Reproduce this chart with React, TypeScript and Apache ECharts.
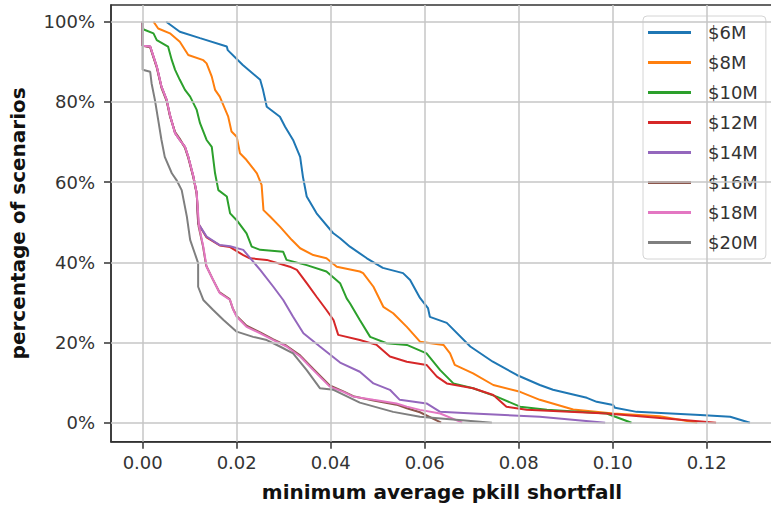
import React, { useEffect, useRef } from "react";
import * as echarts from "echarts";

const seriesNames = ["$6M", "$8M", "$10M", "$12M", "$14M", "$16M", "$18M", "$20M"];
const colors = ["#1f77b4", "#ff7f0e", "#2ca02c", "#d62728", "#9467bd", "#8c564b", "#e377c2", "#7f7f7f"];

const xTicks = [0, 0.02, 0.04, 0.06, 0.08, 0.1, 0.12];
const yTicks = [0, 20, 40, 60, 80, 100];

const s6M = [
  [0.005, 100], [0.0079, 97.5], [0.0122, 95.9], [0.0179, 93.8], [0.0181, 92.9], [0.0213, 89.2],
  [0.025, 85.5], [0.0256, 83.0], [0.0264, 78.8], [0.0292, 76.3], [0.0303, 73.8], [0.032, 70.5],
  [0.0335, 66.3], [0.0341, 61.3], [0.0349, 56.4], [0.037, 52.2], [0.0405, 47.3], [0.042, 46.0],
  [0.0441, 43.9], [0.0477, 41.0], [0.0511, 38.6], [0.0554, 37.3], [0.0569, 35.6], [0.059, 31.1],
  [0.0607, 28.6], [0.0611, 26.4], [0.0647, 24.9], [0.0697, 19.0], [0.0745, 15.2], [0.0796, 11.9],
  [0.0845, 9.4], [0.0873, 8.2], [0.0945, 6.2], [0.0966, 5.2], [0.1001, 4.4], [0.1005, 3.7],
  [0.1051, 2.7], [0.1186, 1.9], [0.125, 1.5], [0.1292, 0],
];
const s8M = [
  [0.0023, 100], [0.0033, 98.3], [0.0058, 97.1], [0.0079, 95.0], [0.0097, 91.7], [0.0129, 90.4],
  [0.0136, 89.6], [0.0147, 86.3], [0.0154, 83.0], [0.0164, 81.3], [0.0182, 76.3], [0.0189, 72.6],
  [0.02, 71.3], [0.0207, 67.2], [0.0221, 65.5], [0.0243, 62.2], [0.0253, 59.3], [0.0257, 53.0],
  [0.0271, 51.4], [0.0292, 48.9], [0.0317, 45.6], [0.0335, 43.5], [0.0363, 41.8], [0.0391, 41.0],
  [0.0413, 38.9], [0.0462, 37.7], [0.0469, 37.3], [0.0491, 33.9], [0.0512, 28.9], [0.0533, 27.3],
  [0.0562, 23.9], [0.059, 20.2], [0.064, 19.4], [0.0654, 17.3], [0.0664, 14.4], [0.0703, 12.3],
  [0.0746, 9.4], [0.0803, 7.7], [0.0845, 5.7], [0.0916, 3.3], [0.1001, 2.3], [0.11, 1.6], [0.118, 0],
];
const s10M = [
  [0, 100], [0.0001, 98.1], [0.0023, 97.1], [0.003, 95.4], [0.0054, 93.8], [0.0062, 90.4],
  [0.0069, 88.0], [0.0079, 85.5], [0.009, 83.0], [0.0101, 81.3], [0.0115, 78.0], [0.0122, 74.7],
  [0.0136, 70.5], [0.0147, 68.8], [0.0154, 62.2], [0.0161, 58.0], [0.0179, 56.4], [0.0186, 52.2],
  [0.02, 50.5], [0.0221, 47.2], [0.0232, 43.9], [0.025, 43.1], [0.0299, 42.6], [0.0306, 40.6],
  [0.0349, 39.3], [0.0391, 37.7], [0.042, 34.8], [0.0434, 31.0], [0.0441, 29.8], [0.0462, 25.6],
  [0.0484, 21.4], [0.0519, 19.8], [0.0562, 19.4], [0.0604, 17.3], [0.0633, 13.1], [0.0661, 9.8],
  [0.0703, 8.6], [0.0753, 6.5], [0.0803, 4.0], [0.086, 3.2], [0.0987, 2.3], [0.104, 0],
];
const s12M = [
  [0, 100], [0, 94], [0.0016, 93.8], [0.0023, 91.3], [0.003, 88.8], [0.004, 83.8], [0.0051, 80.5],
  [0.0058, 76.7], [0.0069, 72.2], [0.0079, 70.5], [0.009, 68.8], [0.0097, 66.3], [0.0108, 61.3],
  [0.0115, 57.2], [0.0118, 49.7], [0.0136, 46.2], [0.0164, 44.2], [0.0186, 43.8], [0.0214, 41.8],
  [0.0228, 41.0], [0.0264, 40.6], [0.0313, 38.9], [0.0328, 38.1], [0.0349, 34.8], [0.037, 31.4],
  [0.0391, 28.1], [0.0406, 25.6], [0.0416, 21.9], [0.0462, 20.6], [0.0498, 19.4], [0.0526, 16.5],
  [0.0562, 15.2], [0.0604, 14.4], [0.0626, 11.5], [0.0647, 9.8], [0.0703, 8.6], [0.0746, 6.9],
  [0.0774, 4.0], [0.0817, 3.2], [0.0987, 2.3], [0.122, 0],
];
const s14M = [
  [0, 100], [0, 94], [0.0016, 93.8], [0.0023, 91.3], [0.003, 88.8], [0.004, 83.8], [0.0051, 80.5],
  [0.0058, 76.7], [0.0069, 72.2], [0.0079, 70.5], [0.009, 68.8], [0.0097, 66.3], [0.0108, 61.3],
  [0.0115, 57.2], [0.0118, 49.7], [0.0136, 46.4], [0.0164, 44.3], [0.0186, 44.0], [0.0214, 43.1],
  [0.0232, 40.6], [0.025, 38.1], [0.0278, 33.9], [0.0299, 30.6], [0.032, 26.4], [0.0342, 22.3],
  [0.0377, 19.0], [0.042, 15.0], [0.0462, 12.7], [0.0491, 9.8], [0.0526, 8.2], [0.0547, 5.7],
  [0.0604, 4.8], [0.0633, 2.7], [0.0703, 2.3], [0.0845, 1.5], [0.0984, 0],
];
const s16M = [
  [0, 100], [0, 94], [0.0016, 93.6], [0.0023, 91.0], [0.003, 88.5], [0.004, 83.5], [0.0051, 80.2],
  [0.0058, 76.4], [0.0069, 72.5], [0.0079, 70.8], [0.009, 68.5], [0.0097, 66.0], [0.0108, 61.0],
  [0.0115, 57.0], [0.0119, 49.0], [0.0128, 44.2], [0.0135, 39.2], [0.0149, 35.8], [0.0163, 32.6],
  [0.0185, 30.8], [0.0192, 28.4], [0.02, 26.6], [0.0221, 24.2], [0.025, 22.5], [0.0278, 20.8],
  [0.0306, 19.2], [0.0335, 16.8], [0.0363, 13.4], [0.0398, 9.3], [0.0427, 7.8], [0.0448, 6.6],
  [0.0491, 5.5], [0.054, 4.5], [0.0562, 3.6], [0.059, 2.6], [0.0635, 0],
];
const s18M = [
  [0, 100], [0, 94], [0.0016, 93.8], [0.0023, 91.3], [0.003, 88.8], [0.004, 83.8], [0.0051, 80.5],
  [0.0058, 76.7], [0.0069, 72.2], [0.0079, 70.5], [0.009, 68.8], [0.0097, 66.3], [0.0108, 61.3],
  [0.0115, 57.2], [0.012, 48.9], [0.0129, 43.9], [0.0136, 38.9], [0.015, 35.6], [0.0164, 32.3],
  [0.0186, 30.6], [0.0193, 28.1], [0.02, 26.4], [0.0221, 23.9], [0.025, 22.3], [0.0278, 20.6],
  [0.0306, 19.0], [0.0335, 16.5], [0.0363, 13.1], [0.0398, 9.0], [0.0427, 7.7], [0.0448, 6.5],
  [0.0491, 5.7], [0.054, 4.8], [0.0562, 4.0], [0.059, 3.2], [0.0633, 2.3], [0.068, 0],
];
const s20M = [
  [0, 100], [0, 88], [0.0016, 87.5], [0.0019, 84.6], [0.0026, 80.5], [0.0033, 75.5], [0.004, 70.5],
  [0.0047, 66.3], [0.0062, 62.2], [0.0072, 60.5], [0.0083, 58.0], [0.0094, 51.4], [0.0101, 45.6],
  [0.0111, 42.2], [0.0118, 39.8], [0.0118, 33.9], [0.0129, 30.6], [0.015, 28.1], [0.0172, 25.6],
  [0.02, 22.7], [0.0235, 21.4], [0.0264, 20.6], [0.0292, 19.0], [0.032, 17.3], [0.0349, 13.1],
  [0.0377, 8.6], [0.0406, 8.2], [0.0462, 5.0], [0.0533, 2.7], [0.059, 1.5], [0.0743, 0],
];

const seriesData = [s6M, s8M, s10M, s12M, s14M, s16M, s18M, s20M];

const FONT = "DejaVu Sans";

export default function App() {
  const ref = useRef<HTMLDivElement>(null);

  useEffect(() => {
    if (!ref.current) return;
    const chart = echarts.init(ref.current, undefined, { renderer: "svg" });

    const gridSeries = {
      type: "line",
      name: "__grid",
      data: [],
      silent: true,
      symbol: "none",
      markLine: {
        silent: true,
        symbol: ["none", "none"],
        animation: false,
        label: { show: false },
        lineStyle: { color: "#c6c6c6", width: 1.5, type: "solid" },
        emphasis: { disabled: true },
        data: [
          ...xTicks.map((v) => ({ xAxis: v })),
          ...yTicks.map((v) => ({ yAxis: v })),
        ],
      },
    };

    const lineSeries = seriesNames.map((name, i) => ({
      type: "line",
      name,
      data: seriesData[i],
      showSymbol: false,
      symbol: "none",
      lineStyle: { color: colors[i], width: 2 },
      itemStyle: { color: colors[i] },
      emphasis: { disabled: true },
    }));

    chart.setOption({
      animation: false,
      backgroundColor: "#ffffff",
      textStyle: { fontFamily: FONT },
      grid: {
        left: 111,
        top: 5,
        width: 662,
        height: 436.7,
        show: true,
        borderColor: "#333333",
        borderWidth: 1.5,
        backgroundColor: "#ffffff",
        outerBoundsMode: "none",
      },
      legend: {
        data: seriesNames,
        orient: "vertical",
        left: 643,
        top: 16,
        icon: "rect",
        itemWidth: 43,
        itemHeight: 3,
        itemGap: 9,
        padding: [6, 8, 6, 5],
        backgroundColor: "rgba(255,255,255,0.85)",
        borderColor: "#d4d4d4",
        borderWidth: 1,
        borderRadius: 4,
        textStyle: {
          fontFamily: FONT,
          fontSize: 18,
          lineHeight: 21,
          color: "#333333",
          padding: [0, 0, 0, 12],
        },
      },
      xAxis: {
        type: "value",
        min: -0.00674,
        max: 0.13411,
        name: "minimum average pkill shortfall",
        nameLocation: "middle",
        nameGap: 40,
        nameTextStyle: { fontFamily: FONT, fontSize: 20, fontWeight: "bold", color: "#111111" },
        axisLine: { show: true, onZero: false, lineStyle: { color: "#333333", width: 1.5 } },
        axisTick: { show: true, length: 7, inside: false, customValues: xTicks, lineStyle: { color: "#333333", width: 1.5 } },
        axisLabel: {
          customValues: xTicks,
          margin: 12,
          fontFamily: FONT,
          fontSize: 18,
          color: "#333333",
          formatter: (v: number) => v.toFixed(2),
        },
        splitLine: { show: false },
      },
      yAxis: {
        type: "value",
        min: -4.74,
        max: 104.16,
        name: "percentage of scenarios",
        nameLocation: "middle",
        nameRotate: 90,
        nameGap: 83,
        nameTextStyle: { fontFamily: FONT, fontSize: 20, fontWeight: "bold", color: "#111111" },
        axisLine: { show: true, onZero: false, lineStyle: { color: "#333333", width: 1.5 } },
        axisTick: { show: true, length: 7, inside: false, customValues: yTicks, lineStyle: { color: "#333333", width: 1.5 } },
        axisLabel: {
          customValues: yTicks,
          margin: 16,
          fontFamily: FONT,
          fontSize: 18,
          color: "#333333",
          formatter: (v: number) => `${v}%`,
        },
        splitLine: { show: false },
      },
      series: [gridSeries, ...lineSeries],
    });

    return () => chart.dispose();
  }, []);

  return (
    <div
      ref={ref}
      style={{ position: "fixed", left: 0, top: 0, width: 771, height: 508 }}
    />
  );
}
